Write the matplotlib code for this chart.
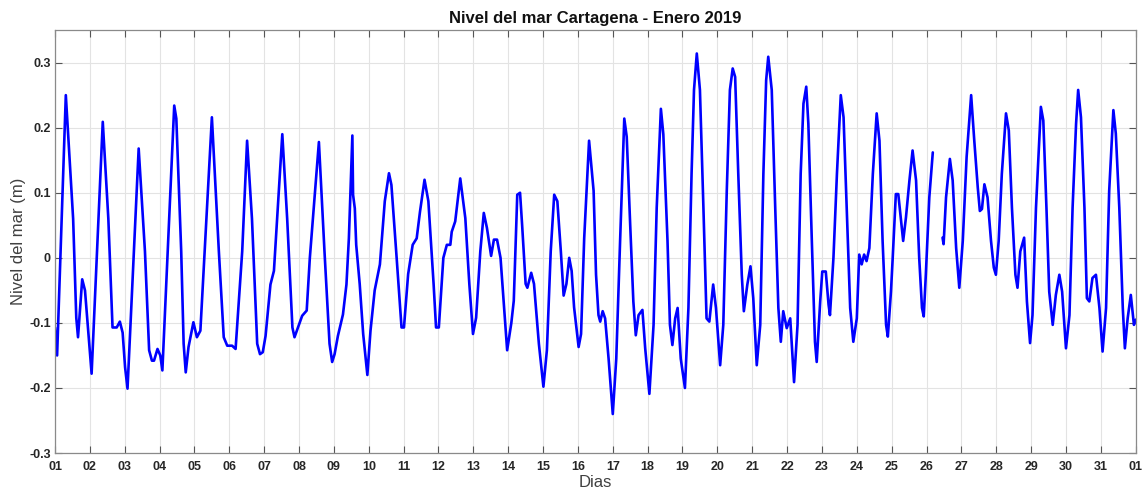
import numpy as np
import matplotlib
matplotlib.use("Agg")
import matplotlib.pyplot as plt

# tiempo en dias desde el 01-ene 00:00, nivel en metros
tiempo_dias = [
    0.00, 0.06, 0.31, 0.35, 0.52, 0.61, 0.66, 0.78, 0.86, 1.05,
    1.37, 1.53, 1.65, 1.77, 1.86, 1.94, 2.01, 2.08, 2.40, 2.58,
    2.70, 2.78, 2.84, 2.94, 3.02, 3.08, 3.42, 3.48, 3.62, 3.69,
    3.75, 3.83, 3.97, 4.07, 4.17, 4.50, 4.70, 4.84, 4.94, 5.08,
    5.18, 5.37, 5.51, 5.65, 5.80, 5.88, 5.96, 6.04, 6.18, 6.28,
    6.52, 6.66, 6.81, 6.87, 6.97, 7.09, 7.22, 7.31, 7.57, 7.73,
    7.875, 7.95, 8.02, 8.115, 8.26, 8.36, 8.43, 8.53, 8.55, 8.60,
    8.64, 8.74, 8.84, 8.96, 9.05, 9.17, 9.32, 9.46, 9.58, 9.65,
    9.80, 9.94, 10.01, 10.13, 10.26, 10.375, 10.47, 10.60, 10.71, 10.86,
    10.93, 11.01, 11.14, 11.24, 11.34, 11.38, 11.48, 11.625, 11.77, 11.885,
    11.99, 12.08, 12.20, 12.30, 12.39, 12.51, 12.59, 12.68, 12.78, 12.89,
    12.97, 13.09, 13.16, 13.26, 13.34, 13.40, 13.50, 13.55, 13.66, 13.74,
    13.88, 14.01, 14.11, 14.22, 14.32, 14.41, 14.51, 14.59, 14.67, 14.75,
    14.82, 14.89, 15.02, 15.09, 15.18, 15.32, 15.45, 15.52, 15.59, 15.64,
    15.71, 15.78, 15.88, 16.00, 16.10, 16.21, 16.33, 16.40, 16.50, 16.59,
    16.66, 16.74, 16.85, 16.93, 17.05, 17.17, 17.26, 17.38, 17.45, 17.57,
    17.64, 17.71, 17.79, 17.86, 17.95, 18.07, 18.17, 18.26, 18.33, 18.41,
    18.50, 18.60, 18.69, 18.77, 18.88, 18.96, 19.08, 19.17, 19.27, 19.36,
    19.44, 19.51, 19.60, 19.70, 19.76, 19.86, 19.95, 20.03, 20.13, 20.23,
    20.32, 20.40, 20.46, 20.56, 20.66, 20.75, 20.82, 20.89, 20.99, 21.09,
    21.20, 21.30, 21.39, 21.47, 21.55, 21.61, 21.71, 21.80, 21.85, 21.95,
    22.01, 22.11, 22.19, 22.23, 22.33, 22.43, 22.54, 22.62, 22.71, 22.81,
    22.90, 23.00, 23.07, 23.14, 23.21, 23.28, 23.36, 23.46, 23.57, 23.65,
    23.74, 23.84, 23.89, 23.98, 24.03, 24.12, 24.19, 24.24, 24.33, 24.41,
    24.51, 24.60, 24.70, 24.79, 24.87, 24.92, 24.98, 25.08, 25.18, 25.30,
    25.46, 25.49, 25.56, 25.67, 25.75, 25.85, 25.94, 26.04, 26.15, 26.28,
    26.37, 26.47, 26.53, 26.59, 26.66, 26.75, 26.85, 26.93, 26.99, 27.07,
    27.16, 27.28, 27.36, 27.45, 27.55, 27.61, 27.69, 27.80, 27.88, 27.97,
    28.04, 28.14, 28.28, 28.35, 28.44, 28.52, 28.62, 28.71, 28.81, 28.89,
    29.00, 29.10, 29.19, 29.29, 29.35, 29.43, 29.53, 29.60, 29.67, 29.76,
    29.86, 29.96, 30.05, 30.15, 30.24, 30.36, 30.43, 30.53, 30.63, 30.69,
    30.77, 30.86, 30.95, 31.00,
]

nan = float("nan")  # hueco en los datos del 26
nivel_m = [
    -0.107, -0.150, 0.250, 0.214, 0.060, -0.092, -0.122, -0.033, -0.050, -0.178,
    0.209, 0.060, -0.107, -0.107, -0.098, -0.115, -0.168, -0.201, 0.168, 0.010,
    -0.142, -0.158, -0.158, -0.140, -0.150, -0.173, 0.234, 0.214, 0.010, -0.132,
    -0.176, -0.137, -0.099, -0.122, -0.112, 0.216, 0.010, -0.122, -0.135, -0.135,
    -0.140, 0.010, 0.180, 0.060, -0.132, -0.148, -0.145, -0.120, -0.041, -0.020,
    0.190, 0.060, -0.107, -0.122, -0.107, -0.089, -0.081, 0.000, 0.178, 0.010,
    -0.132, -0.160, -0.148, -0.120, -0.087, -0.041, 0.030, 0.188, 0.097, 0.076,
    0.020, -0.040, -0.117, -0.180, -0.112, -0.050, -0.010, 0.087, 0.130, 0.112,
    0.000, -0.107, -0.107, -0.025, 0.020, 0.030, 0.071, 0.120, 0.087, -0.040,
    -0.107, -0.107, 0.000, 0.020, 0.020, 0.040, 0.056, 0.122, 0.061, -0.040,
    -0.117, -0.092, 0.010, 0.069, 0.046, 0.003, 0.028, 0.028, 0.000, -0.081,
    -0.142, -0.100, -0.066, 0.097, 0.100, 0.050, -0.040, -0.046, -0.023, -0.040,
    -0.132, -0.198, -0.142, 0.010, 0.097, 0.087, 0.010, -0.058, -0.040, 0.000,
    -0.020, -0.076, -0.137, -0.117, 0.030, 0.180, 0.103, -0.026, -0.088, -0.098,
    -0.082, -0.093, -0.155, -0.240, -0.155, 0.026, 0.214, 0.186, 0.050, -0.067,
    -0.119, -0.088, -0.080, -0.139, -0.209, -0.103, 0.077, 0.229, 0.190, 0.026,
    -0.103, -0.134, -0.093, -0.077, -0.155, -0.200, -0.077, 0.129, 0.258, 0.314,
    0.258, 0.077, -0.093, -0.098, -0.041, -0.077, -0.165, -0.103, 0.103, 0.258,
    0.291, 0.278, 0.129, -0.026, -0.082, -0.041, -0.013, -0.062, -0.165, -0.103,
    0.129, 0.273, 0.309, 0.258, 0.077, -0.077, -0.129, -0.082, -0.108, -0.093,
    -0.191, -0.103, 0.129, 0.237, 0.263, 0.206, 0.026, -0.129, -0.160, -0.067,
    -0.021, -0.021, -0.072, -0.088, 0.000, 0.129, 0.250, 0.216, 0.077, -0.077,
    -0.129, -0.093, 0.005, -0.010, 0.005, -0.005, 0.015, 0.129, 0.222, 0.180,
    0.026, -0.103, -0.121, -0.052, 0.000, 0.098, 0.098, 0.072, 0.026, 0.062,
    0.119, 0.165, 0.119, 0.000, -0.077, -0.090, -0.026, 0.093, 0.162, nan,
    0.031, 0.021, 0.093, 0.152, 0.119, 0.015, -0.046, 0.026, 0.155, 0.250,
    0.180, 0.108, 0.072, 0.075, 0.113, 0.093, 0.026, -0.015, -0.026, 0.026,
    0.129, 0.222, 0.196, 0.077, -0.026, -0.046, 0.010, 0.031, -0.067, -0.131,
    -0.088, 0.077, 0.232, 0.211, 0.077, -0.052, -0.103, -0.057, -0.026, -0.052,
    -0.139, -0.088, 0.077, 0.206, 0.258, 0.216, 0.077, -0.062, -0.067, -0.031,
    -0.026, -0.077, -0.144, -0.077, 0.103, 0.227, 0.191, 0.077, -0.077, -0.139,
    -0.093, -0.057, -0.103, -0.095,
]

etiquetas_dias = ["%02d" % d for d in range(1, 32)] + ["01"]
yticks = [-0.3, -0.2, -0.1, 0, 0.1, 0.2, 0.3]
ytick_labels = ["-0.3", "-0.2", "-0.1", "0", "0.1", "0.2", "0.3"]

plt.rcParams['font.family'] = ['Liberation Sans', 'DejaVu Sans']

fig = plt.figure(figsize=(11.46, 4.93), dpi=100)
ax = fig.add_axes([0.048, 0.081, 0.943, 0.858])

ax.plot(tiempo_dias, nivel_m, color='#0000ff', linewidth=1.9,
        solid_joinstyle='round', solid_capstyle='round')

ax.set_xlim(0, 31)
ax.set_ylim(-0.3, 0.35)
ax.set_xticks(range(0, 32))
ax.set_xticklabels(etiquetas_dias)
ax.set_yticks(yticks)
ax.set_yticklabels(ytick_labels)

ax.grid(True, color='#e3e3e3', linewidth=0.8)
ax.set_axisbelow(True)
ax.tick_params(direction='in', top=True, right=True, length=5, width=0.8,
               colors='#555555', labelcolor='#262626', labelsize=9)
ax.tick_params(axis='x', pad=6)
ax.tick_params(axis='y', pad=3)
for lab in ax.get_xticklabels() + ax.get_yticklabels():
    lab.set_fontweight('bold')
for sp in ax.spines.values():
    sp.set_color('#8a8a8a')
    sp.set_linewidth(0.9)

ax.set_title('Nivel del mar Cartagena - Enero 2019', fontsize=12,
             fontweight='bold', color='#111111', pad=5)
ax.set_xlabel('Dias', fontsize=12, color='#404040', labelpad=1)
ax.set_ylabel('Nivel del mar (m)', fontsize=12, color='#404040', labelpad=2)

fig.savefig('out.png', dpi=100)
